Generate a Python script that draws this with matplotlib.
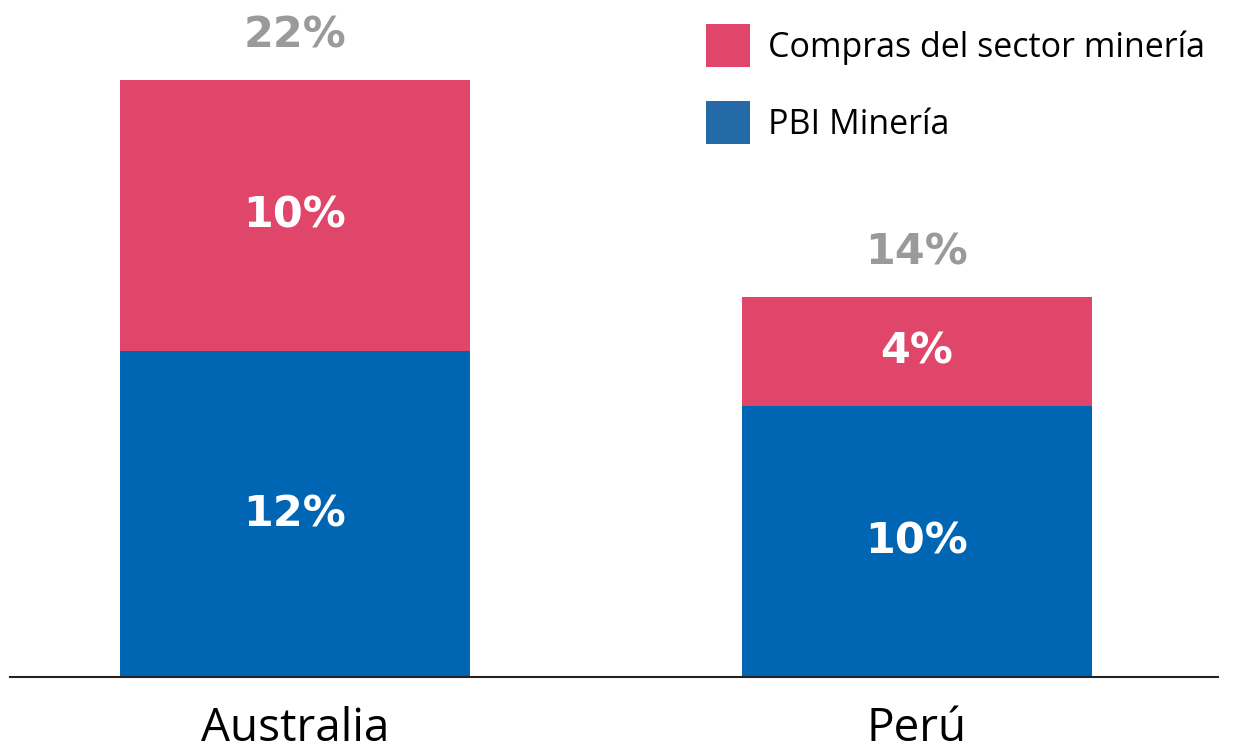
import matplotlib.pyplot as plt
from matplotlib.patches import Patch

# data
countries = ["Australia", "Perú"]
pbi_mineria = [12, 10]
compras_sector = [10, 4]
totals = [22, 14]
series_names = ["Compras del sector minería", "PBI Minería"]

pink = "#E0456A"
blue = "#0066B3"
gray = "#9A9A9A"

plt.rcParams['font.family'] = ['Open Sans', 'DejaVu Sans']
pct_font = 'DejaVu Sans'

fig = plt.figure(figsize=(12.34, 7.56), dpi=100)
ax = fig.add_axes([10 / 1234, 79 / 756, 1208 / 1234, 677 / 756])

x = list(range(len(countries)))
w = 0.563
ax.bar(x, pbi_mineria, width=w, color=blue, zorder=2)
ax.bar(x, compras_sector, width=w, bottom=pbi_mineria, color=pink, zorder=2)

# labels inside the segments and totals on top
for i in x:
    ax.text(i, pbi_mineria[i] / 2, f"{pbi_mineria[i]}%", ha='center', va='center',
            color='white', fontsize=31, fontweight='bold', family=pct_font)
    ax.text(i, pbi_mineria[i] + compras_sector[i] / 2, f"{compras_sector[i]}%",
            ha='center', va='center', color='white', fontsize=31, fontweight='bold',
            family=pct_font)
    ax.annotate(f"{totals[i]}%", (i, totals[i]), xytext=(0, 32), textcoords='offset points',
                ha='center', va='center', color=gray, fontsize=31, fontweight='bold',
                family=pct_font)

ax.set_xlim(-0.458, 1.484)
ax.set_ylim(0, 24.95)
ax.set_xticks(x)
ax.set_xticklabels(countries, fontsize=33)
ax.tick_params(axis='x', length=0, pad=21)
ax.set_yticks([])
for s in ['top', 'right', 'left']:
    ax.spines[s].set_visible(False)
ax.spines['bottom'].set_linewidth(1.5)
ax.spines['bottom'].set_color('#222222')

handles = [Patch(facecolor=pink), Patch(facecolor="#2469A8")]
ax.legend(handles, series_names, loc='upper left', bbox_to_anchor=(0.5646, 0.984),
          frameon=False, fontsize=24.5, handlelength=1.3, handleheight=1.55,
          handletextpad=0.52, labelspacing=1.0, borderaxespad=0.0, borderpad=0.4)

fig.savefig("out.png", dpi=100)
